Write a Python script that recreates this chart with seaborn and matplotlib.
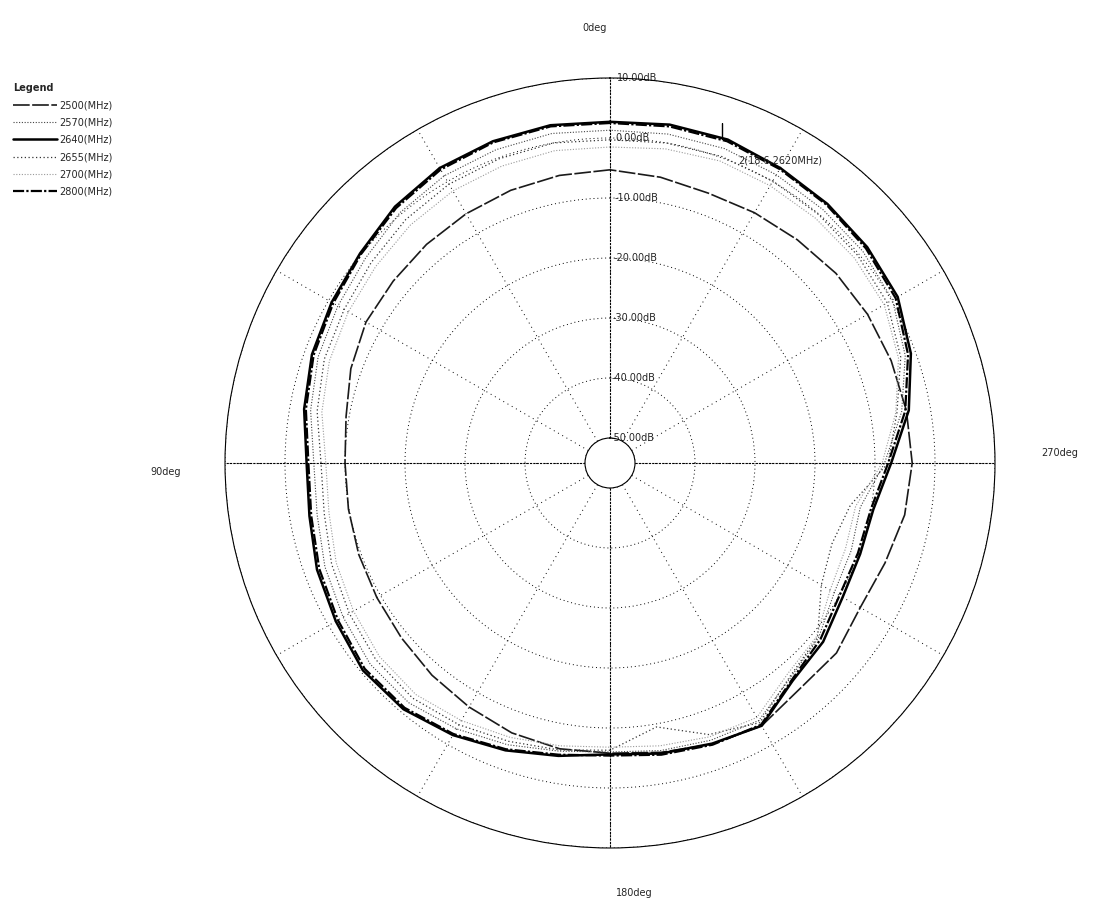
import numpy as np
import seaborn as sns
import matplotlib.pyplot as plt

# angles in degrees, counter-clockwise from the top (90deg is on the left)
angles_deg = list(range(0, 360, 10))

freq_labels = ["2500(MHz)", "2570(MHz)", "2640(MHz)", "2655(MHz)", "2700(MHz)", "2800(MHz)"]

gain_2500 = [-5.3, -5.5, -5.8, -6.2, -6.6, -7.0, -7.2, -8.2, -9.5, -10.0, -9.9, -9.6,
             -9.3, -8.8, -8.0, -7.2, -6.3, -5.8, -5.8, -5.2, -4.3, -3.6, -5.0, -4.9,
             -6.0, -5.4, -4.3, -3.8, -4.0, -4.3, -4.6, -5.0, -5.6, -6.0, -6.3, -5.8]
gain_2570 = [1.3, 1.6, 1.4, 1.1, 0.3, -1.0, -1.8, -2.4, -3.5, -4.8, -4.6, -3.6,
             -2.8, -2.0, -2.0, -3.0, -4.2, -5.4, -6.0, -5.5, -5.0, -4.6, -7.4, -8.8,
             -11.0, -11.4, -11.8, -8.4, -4.8, -1.8, 0.2, 0.8, 1.0, 1.3, 1.6, 1.5]
gain_2640 = [2.7, 3.0, 2.9, 2.6, 1.6, 0.2, -0.6, -1.3, -2.4, -3.6, -3.3, -2.2,
             -1.4, -0.4, -0.6, -1.8, -3.2, -4.6, -5.6, -5.0, -4.4, -3.6, -6.8, -7.8,
             -9.4, -9.8, -9.6, -7.3, -3.6, -0.8, 1.2, 1.8, 2.2, 2.6, 3.2, 3.1]
gain_2655 = [-0.3, 0.0, -0.2, -0.5, -1.2, -2.2, -3.0, -3.5, -4.6, -6.0, -5.8, -4.8,
             -4.0, -3.2, -3.0, -3.8, -4.8, -5.6, -6.3, -9.5, -6.0, -4.2, -7.6, -9.0,
             -13.5, -14.8, -13.5, -7.8, -5.6, -2.6, -0.8, -0.3, -0.1, 0.1, 0.2, 0.0]
gain_2700 = [-1.5, -1.3, -1.5, -1.8, -2.4, -3.2, -3.8, -4.4, -5.4, -6.8, -6.6, -5.6,
             -4.8, -4.0, -3.8, -4.6, -5.5, -6.3, -6.8, -6.3, -5.6, -5.2, -8.2, -9.2,
             -11.8, -12.4, -12.6, -8.8, -5.8, -3.0, -1.4, -1.0, -0.9, -0.8, -0.6, -1.0]
gain_2800 = [2.5, 2.8, 2.7, 2.3, 1.3, 0.0, -0.9, -1.6, -2.7, -3.9, -3.6, -2.6,
             -1.8, -0.8, -0.9, -2.0, -3.4, -4.8, -5.4, -4.8, -4.2, -3.8, -7.0, -8.4,
             -10.0, -10.2, -10.0, -7.8, -4.2, -1.3, 0.8, 1.5, 2.0, 2.4, 2.9, 2.8]

ring_db = [10, 0, -10, -20, -30, -40, -50]
ring_labels = ["10.00dB", "0.00dB", "-10.00dB", "-20.00dB", "-30.00dB", "-40.00dB", "-50.00dB"]

marker_angle = 341.4
marker_db = 4.3
marker_text = "2(18.6,2620MHz)"

series = [gain_2500, gain_2570, gain_2640, gain_2655, gain_2700, gain_2800]
styles = [
    dict(color="#1a1a1a", linewidth=1.2, linestyle=(0, (10, 1.5))),
    dict(color="#444444", linewidth=0.8, linestyle=(0, (1, 1.5))),
    dict(color="black", linewidth=1.8, linestyle="-"),
    dict(color="#333333", linewidth=0.9, linestyle=(0, (1, 2))),
    dict(color="#9a9a9a", linewidth=0.8, linestyle=(0, (1, 1.5))),
    dict(color="black", linewidth=1.6, linestyle=(0, (5, 1, 1, 1))),
]

sns.set_theme(style="white")
plt.rcParams['font.family'] = ['DejaVu Sans']

fig = plt.figure(figsize=(10.95, 9.07), dpi=100)
ax = fig.add_axes([225 / 1095, 59 / 907, 770 / 1095, 770 / 907], projection='polar')
ax.set_theta_zero_location('N')
ax.set_theta_direction(1)
ax.set_ylim(-50, 10)
ax.set_rorigin(10 - 60 / (1 - 25 / 385))

# close the curves
theta = np.deg2rad(angles_deg + [360])
for name, vals, st in zip(freq_labels, series, styles):
    sns.lineplot(x=theta, y=vals + [vals[0]], ax=ax, sort=False, estimator=None,
                 label=name, **st)

# grid
ax.set_xticks(np.deg2rad(range(0, 360, 30)))
ax.set_xticklabels([])
ax.xaxis.grid(True, color="black", linewidth=0.7, linestyle=(0, (1, 4)))
ax.set_yticks(ring_db)
ax.set_yticklabels(ring_labels)
ax.yaxis.grid(True, color="black", linewidth=0.7, linestyle=(0, (1, 3)))
ax.set_rlabel_position(-1)
for t in ax.get_yticklabels():
    t.set_fontsize(7)
    t.set_ha('left')
    t.set_va('center')
ax.tick_params(axis='y', pad=0)
for a in [0, 90, 180, 270]:
    ax.axvline(np.deg2rad(a), color="black", linewidth=0.8, linestyle=(0, (2, 1)))
for sp in ax.spines.values():
    sp.set_color("black")
    sp.set_linewidth(0.8)
ax.set_xlabel("")
ax.set_ylabel("")

# marker
ax.plot(np.deg2rad(marker_angle), marker_db, marker='|', markersize=12,
        color="black", markeredgewidth=1)
ax.annotate(marker_text, xy=(np.deg2rad(marker_angle), marker_db),
            xytext=(16, -30), textcoords='offset pixels', fontsize=7,
            ha='left', va='center')

# angle labels
fig.text(595 / 1095, 1 - 28 / 907, "0deg", fontsize=7, ha='center', va='center')
fig.text(166 / 1095, 1 - 472 / 907, "90deg", fontsize=7, ha='center', va='center')
fig.text(634 / 1095, 1 - 893 / 907, "180deg", fontsize=7, ha='center', va='center')
fig.text(1060 / 1095, 1 - 453 / 907, "270deg", fontsize=7, ha='center', va='center')

# legend
handles, labels = ax.get_legend_handles_labels()
if ax.get_legend() is not None:
    ax.get_legend().remove()
leg = fig.legend(handles, labels, title="Legend", loc='upper left',
                 bbox_to_anchor=(8 / 1095, 1 - 78 / 907), frameon=False,
                 fontsize=7, title_fontsize=7, alignment='left',
                 handlelength=4.5, labelspacing=0.75, handletextpad=0.3,
                 borderpad=0)
leg.get_title().set_fontweight('bold')

fig.savefig("out.png", dpi=100)
